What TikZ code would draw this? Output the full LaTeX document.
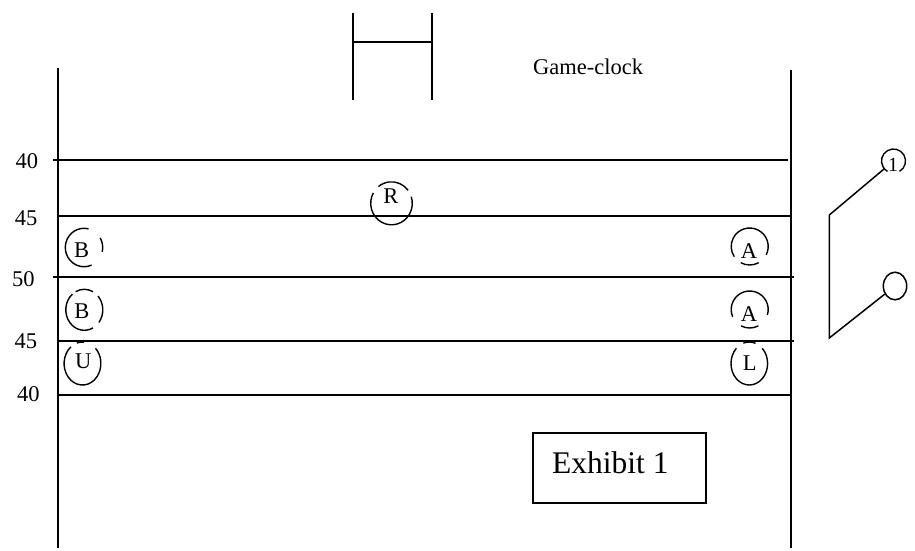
\documentclass[tikz,border=0pt]{standalone}
\usepackage{fontspec}
\setmainfont{Liberation Serif}
\usetikzlibrary{calc,shapes.geometric}

% one part of a player ring: centre, x radius, y radius, from angle, to angle
% (angles counted the usual way, anticlockwise from the right)
\newcommand\ringarc[5]{%
  \pgfmathsetmacro\ringA{-(#4)}%
  \pgfmathsetmacro\ringB{-(#5)}%
  \draw[ringline] (#1) ++(\ringA:#2 and #3)
    arc[start angle=\ringA, end angle=\ringB, x radius=#2, y radius=#3];}

\tikzset{
  yardline/.style={line width=2pt},
  sideline/.style={line width=1.8pt},
  goalpost/.style={line width=1.8pt},
  ringline/.style={line width=1.4pt},
  umpline/.style={line width=1.5pt},
  yardnum/.style={anchor=base, inner sep=0pt, font=\fontsize{22.5}{27}\selectfont},
  playerletter/.style={anchor=base, inner sep=0pt, font=\fontsize{22.5}{27}\selectfont},
  smalltag/.style={anchor=base, inner sep=0pt, font=\fontsize{20}{24}\selectfont},
  titletext/.style={anchor=base west, inner sep=0pt, font=\fontsize{22.5}{27}\selectfont},
  exhibittext/.style={anchor=base west, inner sep=0pt, font=\fontsize{31.5}{36}\selectfont},
}

\begin{document}
\begin{tikzpicture}[x=1pt,y=-1pt]
\useasboundingbox (0,0) rectangle (915,550);

% goal posts
\draw[goalpost] (353,13) -- (353,100);
\draw[goalpost] (432,13) -- (432,100);
\draw[goalpost] (353,42) -- (432,42);

% side lines
\draw[sideline] (58,68) -- (58,548);
\draw[sideline] (791,70) -- (791,548);

% yard lines
\draw[yardline] (53,160) -- (788,160);
\draw[yardline] (58,216) -- (792,216);
\draw[yardline] (53,276.5) -- (794,276.5);
\draw[yardline] (58,340.7) -- (794,340.7);
\draw[yardline] (58,394.5) -- (791,394.5);

% yard numbers
\node[yardnum] (y40a) at (27,168.3) {40};
\node[yardnum] (y45a) at (26,225) {45};
\node[yardnum] (y50)  at (23.3,286.7) {50};
\node[yardnum] (y45b) at (25.8,348.3) {45};
\node[yardnum] (y40b) at (28.3,401.7) {40};

% clock caption
\node[titletext] (clock) at (533,74) {Game-clock};

% players
\coordinate (cR)  at (391.5,203.3);
\coordinate (cB1) at (84,247.5);
\coordinate (cB2) at (84.3,309.8);
\coordinate (cU)  at (82.5,363.5);
\coordinate (cA1) at (749.7,246.5);
\coordinate (cA2) at (749.7,309.5);
\coordinate (cL)  at (749.3,363.5);

\ringarc{cR}{20.8}{21.5}{37}{129}
\ringarc{cR}{20.8}{21.5}{151}{378}
\node[playerletter] (pR) at (390.8,203.3) {R};

\ringarc{cB1}{18.7}{19.2}{76}{294}
\ringarc{cB1}{18.7}{19.2}{-13}{30}
\node[playerletter] (pB1) at (81.7,257.3) {B};

\ringarc{cB2}{18.5}{20.5}{62}{118}
\ringarc{cB2}{18.5}{20.5}{130}{298}
\ringarc{cB2}{18.5}{20.5}{-38}{42}
\node[playerletter] (pB2) at (82,318.3) {B};

\ringarc{cU}{18.4}{21.5}{129}{405}
\ringarc{cU}{18.4}{21.5}{85}{108}
\node[playerletter] (pU) at (83.3,368) {U};

\ringarc{cA1}{18.5}{18.5}{-27}{213.5}
\ringarc{cA1}{18.5}{18.5}{241}{299}
\node[playerletter] (pA1) at (749,258) {A};

\ringarc{cA2}{18.5}{18.5}{-17}{203}
\ringarc{cA2}{18.5}{18.5}{242}{298}
\node[playerletter] (pA2) at (749,321.7) {A};

\ringarc{cL}{18.3}{21.5}{135}{405}
\ringarc{cL}{18.3}{21.5}{70}{109}
\node[playerletter] (pL) at (749.8,370) {L};

% official on the far side with his two markers
\node[circle, minimum size=24pt, inner sep=0pt] (dn1) at (893.5,161) {};
\ringarc{dn1}{12}{12}{-60}{240}
\node[smalltag] (dn1txt) at (893,171.2) {1};
\node[ellipse, draw, umpline, minimum width=23.4pt, minimum height=27.6pt, inner sep=0pt] (dn2) at (895,286) {};
\coordinate (kneeTop) at (829.3,215);
\coordinate (kneeBot) at (829.3,338);
\draw[umpline] (dn1) -- (kneeTop) -- (kneeBot) -- (dn2);

% exhibit label
\node[draw, line width=1.8pt, minimum width=173pt, minimum height=70pt, inner sep=0pt] (exhibit) at (619.5,468) {};
\node[exhibittext] (exhibitTxt) at (552,473) {Exhibit 1};

\end{tikzpicture}
\end{document}
